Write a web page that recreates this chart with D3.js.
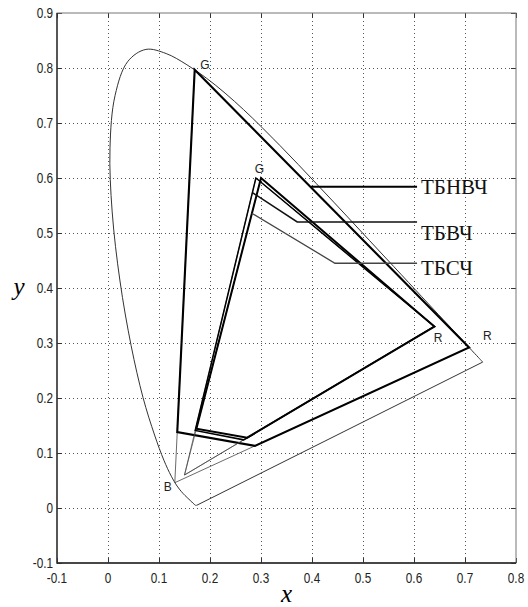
<!DOCTYPE html>
<html><head><meta charset="utf-8">
<script src="https://cdn.jsdelivr.net/npm/d3@7"></script>
<style>body{margin:0;background:#fff}svg{display:block}</style>
</head><body>
<svg id="c" width="528" height="607"></svg>
<script>
// ---- data ----
const xTicks = [-0.1, 0, 0.1, 0.2, 0.3, 0.4, 0.5, 0.6, 0.7, 0.8];
const xTickLabels = ["-0.1", "0", "0.1", "0.2", "0.3", "0.4", "0.5", "0.6", "0.7", "0.8"];
const yTicks = [-0.1, 0, 0.1, 0.2, 0.3, 0.4, 0.5, 0.6, 0.7, 0.8, 0.9];
const yTickLabels = ["-0.1", "0", "0.1", "0.2", "0.3", "0.4", "0.5", "0.6", "0.7", "0.8", "0.9"];

// CIE 1931 spectral locus (380..700 nm, 5 nm step)
const locusX = [0.1741,0.1740,0.1738,0.1736,0.1733,0.1730,0.1726,0.1721,0.1714,0.1703,0.1689,0.1669,0.1644,0.1611,0.1566,0.1510,0.1440,0.1355,0.1241,0.1096,0.0913,0.0687,0.0454,0.0235,0.0082,0.0039,0.0139,0.0389,0.0743,0.1142,0.1547,0.1929,0.2296,0.2658,0.3016,0.3373,0.3731,0.4087,0.4441,0.4788,0.5125,0.5448,0.5752,0.6029,0.6270,0.6482,0.6658,0.6801,0.6915,0.7006,0.7079,0.7140,0.7190,0.7230,0.7260,0.7283,0.7300,0.7311,0.7320,0.7327,0.7334,0.7340,0.7344,0.7346,0.7347];
const locusY = [0.0050,0.0050,0.0049,0.0049,0.0048,0.0048,0.0048,0.0048,0.0051,0.0058,0.0069,0.0086,0.0109,0.0138,0.0177,0.0227,0.0297,0.0399,0.0578,0.0868,0.1327,0.2007,0.2950,0.4127,0.5384,0.6548,0.7502,0.8120,0.8338,0.8262,0.8059,0.7816,0.7543,0.7243,0.6923,0.6589,0.6245,0.5896,0.5547,0.5202,0.4866,0.4544,0.4242,0.3965,0.3725,0.3514,0.3340,0.3197,0.3083,0.2993,0.2920,0.2859,0.2809,0.2770,0.2740,0.2717,0.2700,0.2689,0.2680,0.2673,0.2666,0.2660,0.2656,0.2654,0.2653];

// gamut triangles
const gamutNames = ["ТБНВЧ", "ТБВЧ", "ТБСЧ"];
const redX   = [0.708, 0.64, 0.64];
const redY   = [0.292, 0.33, 0.33];
const greenX = [0.170, 0.30, 0.29];
const greenY = [0.797, 0.60, 0.60];
const blueX  = [0.131, 0.15, 0.15];
const blueY  = [0.046, 0.06, 0.06];
// level where the bold outline cuts off the blue corner
const cutLeftY   = [0.138, 0.144, 0.141];
const cutBottomX = [0.288, 0.273, 0.266];

// label leader lines
const leaderX = [[0.398, 0.606], [0.284, 0.371, 0.606], [0.282, 0.445, 0.606]];
const leaderY = [[0.584, 0.584], [0.573, 0.520, 0.520], [0.536, 0.445, 0.445]];

// vertex letters
const vertexText = ["G", "G", "R", "R", "B"];
const vertexX = [0.190, 0.297, 0.647, 0.744, 0.117];
const vertexY = [0.805, 0.617, 0.310, 0.313, 0.038];

// ---- drawing ----
const svg = d3.select("#c");
const L = 57, R = 516, T = 13, B = 563;
const x = d3.scaleLinear().domain([-0.1, 0.8]).range([L, R]);
const y = d3.scaleLinear().domain([-0.1, 0.9]).range([B, T]);

// grid
const grid = svg.append("g").attr("stroke", "#555").attr("stroke-width", 1)
  .attr("stroke-dasharray", "1,3");
grid.selectAll(".gx").data(xTicks.slice(1, -1)).join("line")
  .attr("x1", d => Math.round(x(d)) + 0.5).attr("x2", d => Math.round(x(d)) + 0.5)
  .attr("y1", T).attr("y2", B);
grid.selectAll(".gy").data(yTicks.slice(1, -1)).join("line")
  .attr("y1", d => Math.round(y(d)) + 0.5).attr("y2", d => Math.round(y(d)) + 0.5)
  .attr("x1", L).attr("x2", R);

// ticks (inward on all sides)
function tickStyle(g){ g.select(".domain").remove(); g.selectAll("text").remove();
  g.selectAll("line").attr("stroke", "#333"); }
svg.append("g").attr("transform", `translate(0,${B})`)
  .call(d3.axisBottom(x).tickValues(xTicks).tickSizeInner(-5).tickSizeOuter(0)).call(tickStyle);
svg.append("g").attr("transform", `translate(0,${T})`)
  .call(d3.axisTop(x).tickValues(xTicks).tickSizeInner(-5).tickSizeOuter(0)).call(tickStyle);
svg.append("g").attr("transform", `translate(${L},0)`)
  .call(d3.axisLeft(y).tickValues(yTicks).tickSizeInner(-5).tickSizeOuter(0)).call(tickStyle);
svg.append("g").attr("transform", `translate(${R},0)`)
  .call(d3.axisRight(y).tickValues(yTicks).tickSizeInner(-5).tickSizeOuter(0)).call(tickStyle);

// frame
svg.append("rect").attr("x", L).attr("y", T).attr("width", R - L).attr("height", B - T)
  .attr("fill", "none").attr("stroke", "#777").attr("stroke-width", 1);
svg.append("path").attr("d", `M${L},${T}V${B}H${R}`).attr("fill", "none")
  .attr("stroke", "#222").attr("stroke-width", 1.3);

// tick labels (condensed sans)
const tickFont = "'Liberation Sans', Arial, sans-serif";
svg.append("g").selectAll("g").data(xTicks).join("g")
  .attr("transform", d => `translate(${x(d)},${B + 15})`)
  .append("text").attr("transform", "scale(0.76,1)")
  .attr("text-anchor", "middle").attr("dominant-baseline", "central")
  .attr("font-family", tickFont).attr("font-size", 15.5).attr("fill", "#222")
  .text((d, i) => xTickLabels[i]);
svg.append("g").selectAll("g").data(yTicks).join("g")
  .attr("transform", d => `translate(${L - 4},${y(d)})`)
  .append("text").attr("transform", "scale(0.76,1)")
  .attr("text-anchor", "end").attr("dominant-baseline", "central")
  .attr("font-family", tickFont).attr("font-size", 15.5).attr("fill", "#222")
  .text((d, i) => yTickLabels[i]);

// axis titles
svg.append("text").attr("x", (L + R) / 2).attr("y", 602).attr("text-anchor", "middle")
  .attr("font-family", "'Liberation Serif', 'Times New Roman', serif").attr("font-style", "italic")
  .attr("font-size", 25).text("x");
svg.append("text").attr("x", 19).attr("y", 295).attr("text-anchor", "middle")
  .attr("font-family", "'Liberation Serif', 'Times New Roman', serif").attr("font-style", "italic")
  .attr("font-size", 25).text("y");

// spectral locus (smooth) with straight purple line
const locus = locusX.map((v, i) => [v, locusY[i]]);
const line = d3.line().x(d => x(d[0])).y(d => y(d[1]));
const smooth = d3.line().x(d => x(d[0])).y(d => y(d[1])).curve(d3.curveCatmullRom.alpha(0.5));
svg.append("path").attr("d", smooth(locus)).attr("fill", "none")
  .attr("stroke", "#333").attr("stroke-width", 1);
svg.append("path").attr("d", line([locus[0], locus[locus.length - 1]])).attr("fill", "none")
  .attr("stroke", "#333").attr("stroke-width", 1);

// gamuts
const thin = [0.8, 0.7, 0.7];
const bold = [2.1, 2.0, 1.5];
gamutNames.forEach((name, i) => {
  const Rp = [redX[i], redY[i]], Gp = [greenX[i], greenY[i]], Bp = [blueX[i], blueY[i]];
  svg.append("path").attr("d", line([Rp, Gp, Bp]) + "Z").attr("fill", "none")
    .attr("stroke", "#444").attr("stroke-width", thin[i]);
  const tL = (cutLeftY[i] - Bp[1]) / (Gp[1] - Bp[1]);
  const pL = [Bp[0] + tL * (Gp[0] - Bp[0]), cutLeftY[i]];
  const tB = (cutBottomX[i] - Bp[0]) / (Rp[0] - Bp[0]);
  const pB = [cutBottomX[i], Bp[1] + tB * (Rp[1] - Bp[1])];
  svg.append("path").attr("d", line([Gp, Rp, pB, pL]) + "Z").attr("fill", "none")
    .attr("stroke", "#000").attr("stroke-width", bold[i]).attr("stroke-linejoin", "miter");
});

// leaders and labels
const leaderW = [2, 1.6, 1.3];
const leaderC = ["#000", "#111", "#444"];
const labelDy = [0, 11, 5];
gamutNames.forEach((name, i) => {
  const pts = leaderX[i].map((v, k) => [v, leaderY[i][k]]);
  svg.append("path").attr("d", line(pts)).attr("fill", "none")
    .attr("stroke", leaderC[i]).attr("stroke-width", leaderW[i]);
  const end = pts[pts.length - 1];
  svg.append("text").attr("x", x(end[0]) + 4).attr("y", y(end[1]) + labelDy[i])
    .attr("dominant-baseline", "central")
    .attr("font-family", "'Liberation Serif', 'Times New Roman', serif")
    .attr("font-size", 21).attr("fill", "#111").text(name);
});

// vertex letters
svg.append("g").selectAll("text").data(vertexText).join("text")
  .attr("x", (d, i) => x(vertexX[i])).attr("y", (d, i) => y(vertexY[i]))
  .attr("text-anchor", "middle").attr("dominant-baseline", "central")
  .attr("font-family", tickFont).attr("font-size", 12).attr("fill", "#222")
  .text(d => d);
</script>
</body></html>
